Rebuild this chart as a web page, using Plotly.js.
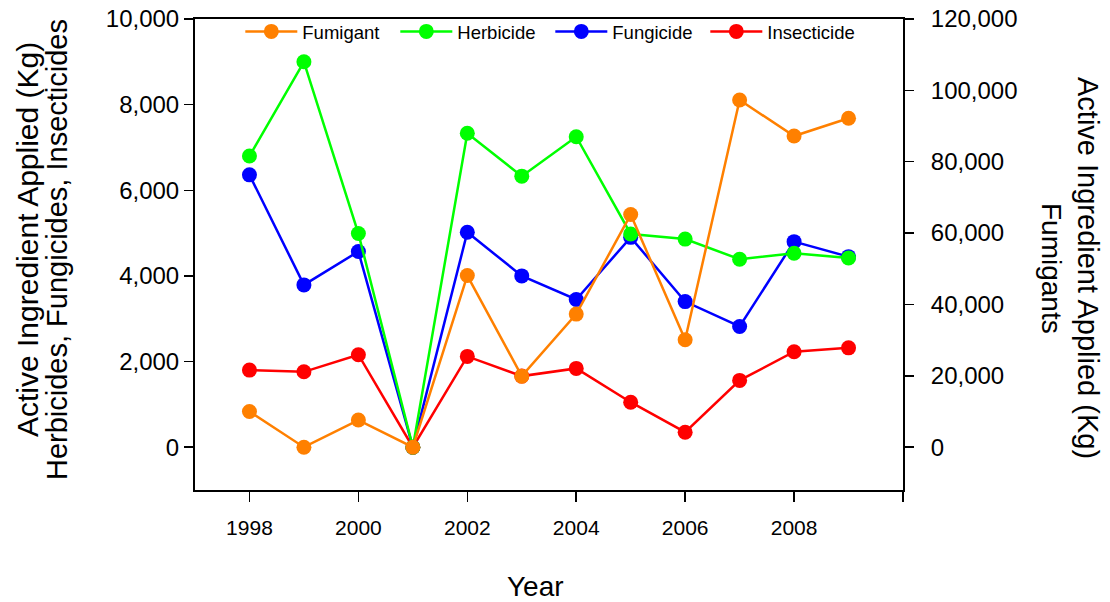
<!DOCTYPE html>
<html>
<head>
<meta charset="utf-8">
<script src="https://cdn.plot.ly/plotly-3.0.1.min.js"></script>
<style>html,body{margin:0;padding:0;background:#fff;}#chart{width:1110px;height:602px;}</style>
</head>
<body>
<div id="chart"></div>
<script>
const years = [1998, 1999, 2000, 2001, 2002, 2003, 2004, 2005, 2006, 2007, 2008, 2009];
const fumigant = [10000, 0, 7600, 0, 48100, 19900, 37300, 65200, 30100, 97300, 87200, 92200];
const herbicide = [6800, 9000, 4990, 0, 7330, 6330, 7250, 4980, 4860, 4390, 4530, 4420];
const fungicide = [6360, 3790, 4570, 0, 5020, 4000, 3450, 4900, 3400, 2820, 4800, 4450];
const insecticide = [1800, 1760, 2160, 0, 2120, 1660, 1840, 1050, 350, 1560, 2230, 2320];
const xTickVals = [1998, 2000, 2002, 2004, 2006, 2008, 2010];
const xTickText = ['1998', '2000', '2002', '2004', '2006', '2008', ''];
const leftTicks = [0, 2000, 4000, 6000, 8000, 10000];
const rightTicks = [0, 20000, 40000, 60000, 80000, 100000, 120000];

const font = 'Arial, "Liberation Sans", Helvetica, sans-serif';
function tr(name, y, color, axis, rank) {
  return {
    x: years, y: y, name: name, type: 'scatter', mode: 'lines+markers',
    yaxis: axis, legendrank: rank,
    line: {color: color, width: 2.5},
    marker: {color: color, size: 15, symbol: 'circle'}
  };
}
const data = [
  tr('Insecticide', insecticide, '#ff0000', 'y', 4),
  tr('Fungicide', fungicide, '#0000ff', 'y', 3),
  tr('Herbicide', herbicide, '#00ff00', 'y', 2),
  tr('Fumigant', fumigant, '#ff8000', 'y2', 1)
];
const axisCommon = {
  showline: true, linecolor: '#000', linewidth: 2, ticks: 'outside', ticklen: 9,
  tickwidth: 1.5, tickcolor: '#000', showgrid: false, zeroline: false,
  tickfont: {family: font, size: 24, color: '#000'}
};
function ann(text, x, y, angle, size) {
  return {text: text, xref: 'paper', yref: 'paper', x: x, y: y, xanchor: 'center', yanchor: 'middle',
          textangle: angle, showarrow: false, font: {family: font, size: size, color: '#000'}};
}
const px = v => (v - 195) / 708;
const py = v => (490 - v) / 471;
const layout = {
  width: 1110, height: 602,
  margin: {l: 195, r: 207, t: 19, b: 112},
  paper_bgcolor: '#fff', plot_bgcolor: '#fff',
  font: {family: font, color: '#000'},
  showlegend: true,
  legend: {orientation: 'h', x: 0.064, y: 1.013, xanchor: 'left', yanchor: 'top',
           bgcolor: 'rgba(0,0,0,0)', font: {family: font, size: 18.5, color: '#000'},
           itemwidth: 52, entrywidth: 88, entrywidthmode: 'pixels',
           traceorder: 'normal'},
  xaxis: Object.assign({}, axisCommon, {
    range: [1997, 2010], tickvals: xTickVals, ticktext: xTickText, mirror: true,
    ticklen: 10, ticklabelstandoff: 8,
    tickfont: {family: font, size: 21, color: '#000'}
  }),
  yaxis: Object.assign({}, axisCommon, {
    range: [-1000, 10000], tickvals: leftTicks, tickformat: ',d'
  }),
  yaxis2: Object.assign({}, axisCommon, {
    range: [-12000, 120000], tickvals: rightTicks, tickformat: ',d',
    overlaying: 'y', side: 'right', ticklabelstandoff: 12
  }),
  annotations: [
    ann('Active Ingredient Applied (Kg)', px(27), py(240), -90, 30),
    ann('Herbicides, Fungicides, Insecticides', px(57), py(250), -90, 29),
    ann('Active Ingredient Applied (Kg)', px(1088), py(268), 90, 29),
    ann('Fumigants', px(1052), py(268), 90, 28),
    ann('Year', px(535), py(586), 0, 28)
  ]
};
Plotly.newPlot('chart', data, layout, {displayModeBar: false, staticPlot: true});
</script>
</body>
</html>
